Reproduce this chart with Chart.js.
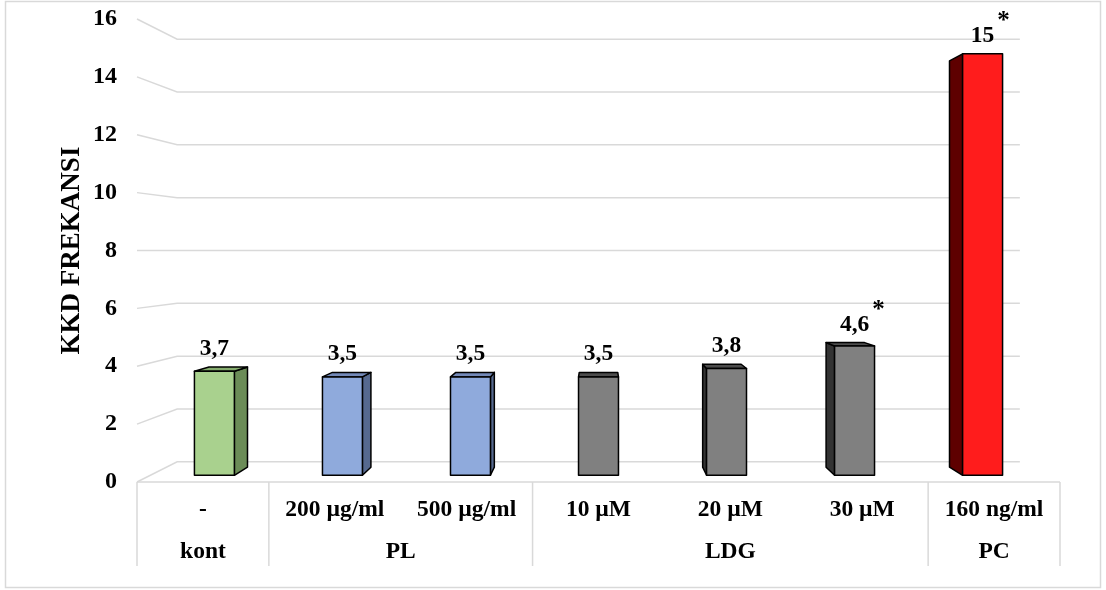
<!DOCTYPE html>
<html>
<head>
<meta charset="utf-8">
<script src="https://cdn.jsdelivr.net/npm/chart.js@4.4.0/dist/chart.umd.min.js"></script>
<style>
  html, body { margin: 0; padding: 0; background: #ffffff; }
  canvas { display: block; }
</style>
</head>
<body>
<canvas id="chart" width="1106" height="590"></canvas>
<script>
// Treatment doses (first axis row) and the treatment groups beneath them
const subLabels = ['-', '200 µg/ml', '500 µg/ml', '10 µM', '20 µM', '30 µM', '160 ng/ml'];
const groupLabels = ['kont', 'PL', 'LDG', 'PC'];
const groupSizes = [1, 2, 3, 1];

// Mean KKD frequency for each dose, and significance marks
const kkdValues = [3.7, 3.5, 3.5, 3.5, 3.8, 4.6, 15];
const significance = ['', '', '', '', '', '*', '*'];

// Value axis range
const yMin = 0;
const yMax = 16;
const yStep = 2;

// Bar face colours: front, side, top
const frontColors = ['#A9D18E', '#8FAADC', '#8FAADC', '#808080', '#808080', '#808080', '#FF1C1C'];
const sideColors  = ['#6B8C57', '#56698F', '#56698F', '#333333', '#333333', '#333333', '#5E0000'];
const topColors   = ['#86AD6E', '#7389B8', '#7389B8', '#4D4D4D', '#4D4D4D', '#4D4D4D', '#B01010'];

const FONT = "'Liberation Serif', 'Times New Roman', serif";
const GRID = '#D9D9D9';
const TEXT_SIZE = 23.5;

// One-point perspective: depth factors toward the centre of the plot area
const K_FRONT = 0.029;
const K_BACK = 0.064;
const K_WALL = 0.087;

function vanishing(chart) {
  const a = chart.chartArea;
  return { x: (a.left + a.right) / 2, y: (a.top + a.bottom) / 2 };
}
function project(vp, x, y, k) {
  return [x + (vp.x - x) * k, y + (vp.y - y) * k];
}
function poly(ctx, pts, fill) {
  ctx.beginPath();
  ctx.moveTo(pts[0][0], pts[0][1]);
  for (let i = 1; i < pts.length; i++) ctx.lineTo(pts[i][0], pts[i][1]);
  ctx.closePath();
  ctx.fillStyle = fill;
  ctx.fill();
  ctx.stroke();
}
function fmt(v) {
  return String(v).replace('.', ',');
}

const perspective3d = {
  id: 'perspective3d',
  beforeDraw(chart) {
    const ctx = chart.ctx;
    ctx.save();
    ctx.fillStyle = '#ffffff';
    ctx.fillRect(0, 0, chart.width, chart.height);
    ctx.strokeStyle = GRID;
    ctx.lineWidth = 1.5;
    ctx.strokeRect(5.5, 1.5, chart.width - 11, chart.height - 4);
    ctx.restore();
  },
  beforeDatasetsDraw(chart) {
    // side wall and back wall grid lines
    const ctx = chart.ctx;
    const a = chart.chartArea;
    const vp = vanishing(chart);
    const ys = chart.scales.y;
    ctx.save();
    ctx.strokeStyle = GRID;
    ctx.lineWidth = 1.5;
    ys.ticks.forEach(t => {
      const fy = ys.getPixelForValue(t.value);
      const [bx, by] = project(vp, a.left, fy, K_WALL);
      const [rx] = project(vp, a.right, fy, K_WALL);
      ctx.beginPath();
      ctx.moveTo(a.left, fy);
      ctx.lineTo(bx, by);
      ctx.lineTo(rx, by);
      ctx.stroke();
    });
    ctx.restore();
  },
  afterDatasetsDraw(chart) {
    const ctx = chart.ctx;
    const vp = vanishing(chart);
    const meta = chart.getDatasetMeta(0);
    ctx.save();
    ctx.strokeStyle = '#000000';
    ctx.lineWidth = 1.5;
    ctx.lineJoin = 'round';
    meta.data.forEach((bar, i) => {
      const { x, y, base, width } = bar.getProps(['x', 'y', 'base', 'width'], true);
      const xl = x - width / 2, xr = x + width / 2;
      const fTL = project(vp, xl, y, K_FRONT), fTR = project(vp, xr, y, K_FRONT);
      const fBL = project(vp, xl, base, K_FRONT), fBR = project(vp, xr, base, K_FRONT);
      const bTL = project(vp, xl, y, K_BACK), bTR = project(vp, xr, y, K_BACK);
      const bBL = project(vp, xl, base, K_BACK), bBR = project(vp, xr, base, K_BACK);
      if (xr < vp.x) poly(ctx, [fTR, bTR, bBR, fBR], sideColors[i]);
      if (xl > vp.x) poly(ctx, [fTL, bTL, bBL, fBL], sideColors[i]);
      if (y > vp.y) poly(ctx, [fTL, fTR, bTR, bTL], topColors[i]);
      poly(ctx, [fTL, fTR, fBR, fBL], frontColors[i]);

      // value label and significance mark
      const cx = (fTL[0] + fTR[0]) / 2;
      const topY = Math.min(fTL[1], bTL[1]);
      const label = fmt(kkdValues[i]);
      ctx.fillStyle = '#000000';
      ctx.font = 'bold ' + TEXT_SIZE + 'px ' + FONT;
      ctx.textAlign = 'center';
      ctx.textBaseline = 'alphabetic';
      const ly = topY - 12;
      ctx.fillText(label, cx, ly);
      if (significance[i]) {
        const w = ctx.measureText(label).width;
        ctx.font = 'bold 25px ' + FONT;
        ctx.textAlign = 'left';
        ctx.fillText(significance[i], cx + w / 2 + 3, ly - 14);
      }
    });
    ctx.restore();
  },
  afterDraw(chart) {
    // category table below the floor
    const ctx = chart.ctx;
    const a = chart.chartArea;
    const xs = chart.scales.x;
    const step = xs.getPixelForValue(1) - xs.getPixelForValue(0);
    const tableBottom = a.bottom + 84;
    ctx.save();
    ctx.strokeStyle = GRID;
    ctx.lineWidth = 1.5;
    ctx.beginPath();
    ctx.moveTo(a.left, a.bottom);
    ctx.lineTo(a.right, a.bottom);
    ctx.stroke();
    ctx.fillStyle = '#000000';
    ctx.font = 'bold ' + TEXT_SIZE + 'px ' + FONT;
    ctx.textAlign = 'center';
    ctx.textBaseline = 'middle';
    let start = 0;
    const edges = [xs.getPixelForValue(0) - step / 2];
    groupSizes.forEach((n, g) => {
      const x0 = xs.getPixelForValue(start) - step / 2;
      const x1 = xs.getPixelForValue(start + n - 1) + step / 2;
      edges.push(x1);
      ctx.fillText(groupLabels[g], (x0 + x1) / 2, a.bottom + 70);
      start += n;
    });
    edges.forEach(ex => {
      ctx.beginPath();
      ctx.moveTo(ex, a.bottom);
      ctx.lineTo(ex, tableBottom);
      ctx.stroke();
    });
    ctx.restore();
  }
};

new Chart(document.getElementById('chart'), {
  type: 'bar',
  data: {
    labels: subLabels,
    datasets: [{
      label: 'KKD FREKANSI',
      data: kkdValues,
      backgroundColor: 'rgba(0,0,0,0)',
      borderWidth: 0,
      barPercentage: 0.312,
      categoryPercentage: 1
    }]
  },
  options: {
    responsive: false,
    animation: false,
    events: [],
    layout: { padding: { top: 19, right: 46, bottom: 0, left: 0 } },
    plugins: {
      legend: { display: false },
      tooltip: { enabled: false }
    },
    scales: {
      x: {
        type: 'category',
        grid: { display: false, drawTicks: false },
        border: { display: false },
        ticks: {
          color: '#000000',
          font: { family: FONT, size: TEXT_SIZE, weight: 'bold' },
          padding: 14,
          maxRotation: 0,
          autoSkip: false
        },
        afterFit(scale) { scale.height = 108; }
      },
      y: {
        min: yMin,
        max: yMax,
        grid: { display: false, drawTicks: false },
        border: { display: false },
        ticks: {
          stepSize: yStep,
          color: '#000000',
          font: { family: FONT, size: 24, weight: 'bold' },
          padding: 20
        },
        title: {
          display: true,
          text: 'KKD FREKANSI',
          color: '#000000',
          font: { family: FONT, size: 27, weight: 'bold' },
          padding: { top: 56, bottom: 0 }
        },
        afterFit(scale) {
          scale.width = 137;
          scale.paddingTop = 0;
          scale.paddingBottom = 0;
        }
      }
    }
  },
  plugins: [perspective3d]
});
</script>
</body>
</html>
